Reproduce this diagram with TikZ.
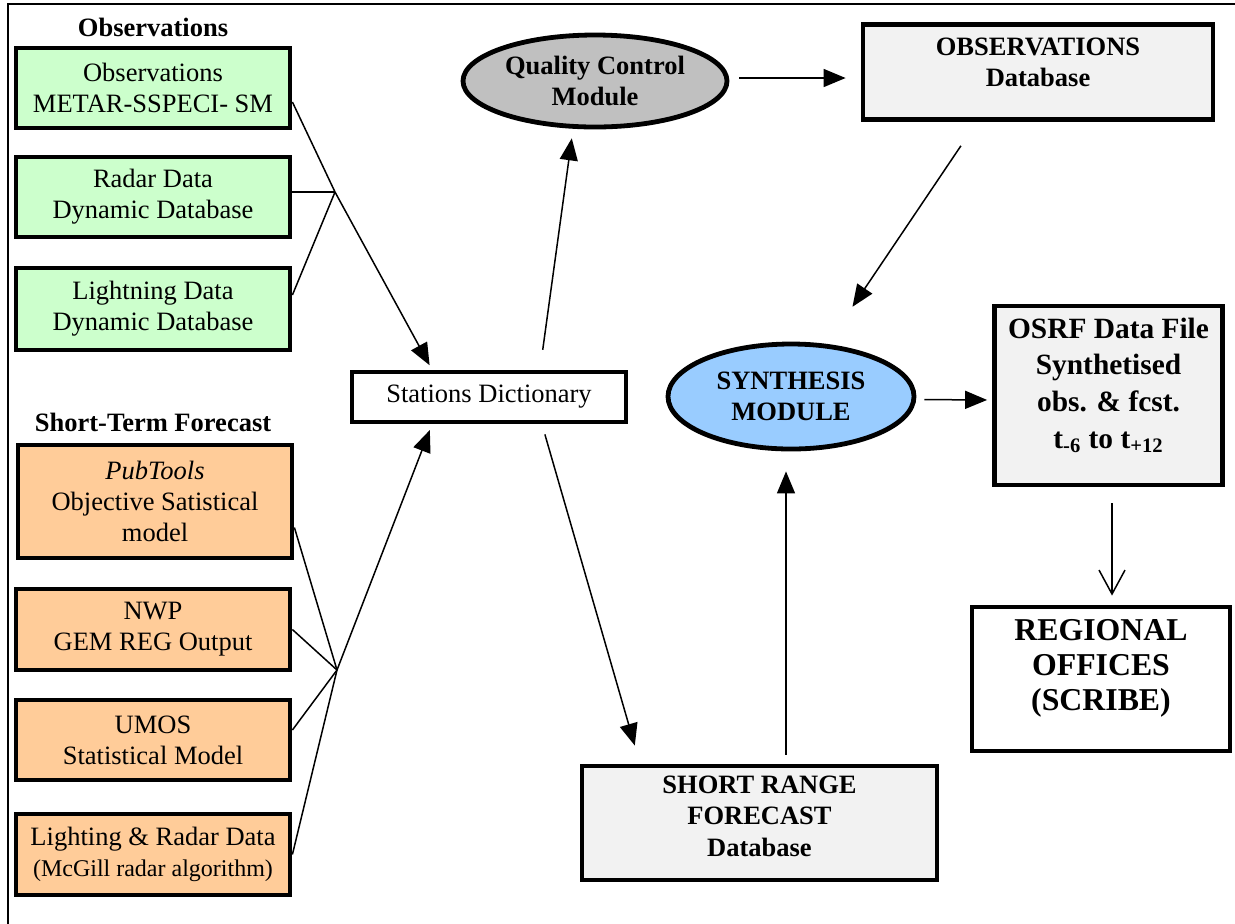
\documentclass[tikz,border=0pt]{standalone}
\usepackage{fontspec}
\setmainfont{Liberation Serif}
\usetikzlibrary{shapes.geometric,arrows.meta}

\definecolor{obsgreen}{RGB}{204,255,204}
\definecolor{fcstorange}{RGB}{255,204,153}
\definecolor{dbgray}{RGB}{242,242,242}
\definecolor{qcgray}{RGB}{192,192,192}
\definecolor{synthblue}{RGB}{153,204,255}

\newcommand{\txtnorm}{\fontsize{13.25}{15.5}\selectfont}
\newcommand{\txtbold}{\fontsize{13.25}{15.7}\selectfont\bfseries}

\tikzset{
  inbox/.style={draw, line width=2.4pt, minimum width=137pt, align=center, font=\txtnorm, inner sep=2pt},
  obsbox/.style={inbox, fill=obsgreen},
  fcstbox/.style={inbox, fill=fcstorange},
  dbbox/.style={draw, line width=2.4pt, fill=dbgray, align=center, font=\txtbold, inner sep=3pt},
  module/.style={ellipse, draw, line width=2.4pt, align=center, font=\txtbold, inner sep=0pt},
  heading/.style={font=\txtbold},
  link/.style={line width=0.75pt},
  arr/.style={link, -{Triangle[length=11pt,width=9pt]}}
}

\begin{document}
\begin{tikzpicture}[x=0.5pt, y=-0.5pt]
  \useasboundingbox (0,0) rectangle (1235,923);
  % frame, open at right and bottom
  \draw[line width=1pt] (8,940) -- (8,4) -- (1250,4);

  % observation inputs
  \node[heading] (obstitle) at (153,27) {Observations};
  \node[obsbox, minimum height=40pt] (obsin) at (153,88) {Observations\\METAR-SSPECI- SM};
  \node[obsbox, minimum height=40pt] (radar) at (153,197) {Radar Data\\Dynamic Database};
  \node[obsbox, minimum height=41pt] (lightning) at (153,309) {Lightning Data\\Dynamic Database};

  % forecast inputs
  \node[heading] (fcsttitle) at (153,422) {Short-Term Forecast};
  \node[fcstbox, minimum height=56.5pt] (pubtools) at (155,501.5) {\textit{PubTools}\\Objective Satistical\\model};
  \node[fcstbox, minimum height=40.5pt] (nwp) at (153,629.5) {NWP\\GEM REG Output};
  \node[fcstbox, minimum height=40pt] (umos) at (153,740) {UMOS\\Statistical Model};
  \node[fcstbox, minimum height=40.5pt] (lighting) at (153,854.5)
    {Lighting \& Radar Data\\{\fontsize{12}{15}\selectfont (McGill radar algorithm)}};

  % processing chain
  \node[draw, line width=2.4pt, minimum width=137pt, minimum height=25pt, font=\txtnorm] (dict) at (489,397) {Stations Dictionary};
  \node[module, fill=qcgray, minimum width=132pt, minimum height=46pt] (qc) at (595,81) {Quality Control\\Module};
  \node[dbbox, minimum width=175pt, minimum height=47.5pt, text depth=10pt] (obsdb) at (1038,72) {OBSERVATIONS\\Database};
  \node[module, fill=synthblue, minimum width=123pt, minimum height=52.5pt] (synth) at (791,396.5) {SYNTHESIS\\MODULE};
  \node[dbbox, minimum width=114pt, minimum height=89.5pt, text depth=12.5pt, font=\fontsize{14.7}{18.3}\selectfont\bfseries] (osrf) at (1108.5,395.5)
    {OSRF Data File\\Synthetised\\obs. \& fcst.\\t\textsubscript{-6} to t\textsubscript{+12}};
  \node[draw, line width=2.4pt, fill=white, align=center, minimum width=129pt, minimum height=72pt, text depth=14pt,
    font=\fontsize{15.9}{17.6}\selectfont\bfseries] (regional) at (1101,679) {REGIONAL\\OFFICES\\(SCRIBE)};
  \node[dbbox, minimum width=177.5pt, minimum height=57pt, text depth=7pt] (srf) at (759.5,823) {SHORT RANGE\\FORECAST\\Database};

  % junctions
  \coordinate (obsjoin) at (335,192);
  \coordinate (fcstjoin) at (337,670);

  % inputs to the dictionary
  \draw[arr, shorten >=2.5pt] ([yshift=-7pt]obsin.east) -- (obsjoin) -- ([xshift=-28.5pt]dict.north);
  \draw[link] ([yshift=2.5pt]radar.east) -- (obsjoin);
  \draw[link] ([yshift=7pt]lightning.east) -- (obsjoin);
  \draw[arr, shorten >=3pt] (lighting.east) -- (fcstjoin) -- ([xshift=-28.5pt]dict.south);
  \draw[link] ([yshift=-13pt]pubtools.east) -- (fcstjoin);
  \draw[link] (nwp.east) -- (fcstjoin);
  \draw[link] ([yshift=5pt]umos.east) -- (fcstjoin);

  % flows between modules
  \draw[arr, shorten <=10pt, shorten >=4.5pt] ([xshift=25.5pt]dict.north) -- ([xshift=-11pt]qc.south);
  \draw[arr, shorten <=5pt, shorten >=7.5pt] ([yshift=1.5pt]qc.east) -- ([yshift=-3pt]obsdb.west);
  \draw[arr, shorten <=14.4pt, shorten >=21pt] ([xshift=-30.5pt]obsdb.south) -- ([xshift=19pt]synth.north);
  \draw[arr, shorten <=5.2pt, shorten >=9.4pt] ([xshift=26.5pt]dict.south) -- ([xshift=-59.75pt]srf.north);
  \draw[arr, shorten <=4.5pt, shorten >=10pt] ([xshift=13.25pt]srf.north) -- ([xshift=-2.5pt]synth.south);
  \draw[arr, shorten <=4pt, shorten >=2.5pt] ([yshift=-1.5pt]synth.east) -- ([yshift=-2.25pt]osrf.west);
  \draw[link, -{Straight Barb[length=12pt,width=13pt]}, shorten <=8pt, shorten >=4.5pt]
    ([xshift=1.75pt]osrf.south) -- ([xshift=5.5pt]regional.north);
\end{tikzpicture}
\end{document}
